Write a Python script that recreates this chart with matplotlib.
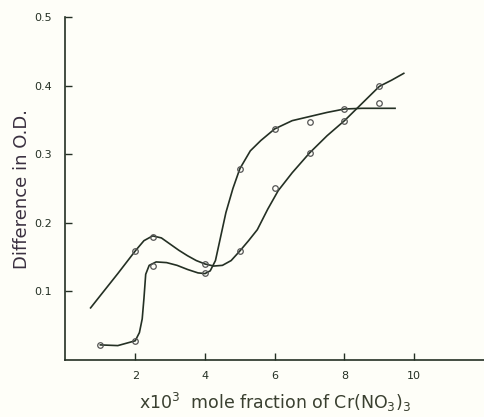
import matplotlib
matplotlib.use("Agg")
import matplotlib.pyplot as plt

# measured points (open circles)
px1 = [1, 2, 2.5, 4, 5, 6, 7, 8]
py1 = [0.022, 0.028, 0.137, 0.127, 0.279, 0.337, 0.347, 0.366]
px2 = [2, 2.5, 4, 5, 6, 7, 8, 9]
py2 = [0.159, 0.180, 0.140, 0.159, 0.251, 0.302, 0.349, 0.399]
px3 = [9]
py3 = [0.375]

# hand drawn curves
cx1 = [1.0, 1.5, 2.0, 2.12, 2.2, 2.25, 2.3, 2.4, 2.6, 2.9, 3.2, 3.5, 3.8, 4.0,
       4.15, 4.3, 4.45, 4.6, 4.8, 5.0, 5.3, 5.6, 6.0, 6.5, 7.0, 7.5, 8.0, 8.5, 9.0, 9.45]
cy1 = [0.022, 0.021, 0.028, 0.04, 0.06, 0.09, 0.125, 0.138, 0.143, 0.142, 0.138, 0.132,
       0.127, 0.126, 0.13, 0.145, 0.18, 0.215, 0.25, 0.279, 0.305, 0.32, 0.337, 0.349,
       0.355, 0.361, 0.366, 0.367, 0.367, 0.367]
cx2 = [0.72, 1.0, 1.5, 2.0, 2.25, 2.5, 2.75, 3.0, 3.25, 3.5, 3.75, 4.0, 4.25, 4.5,
       4.75, 5.0, 5.25, 5.5, 5.8, 6.1, 6.5, 7.0, 7.5, 8.0, 8.5, 9.0, 9.35, 9.7]
cy2 = [0.076, 0.094, 0.126, 0.159, 0.174, 0.181, 0.178, 0.169, 0.16, 0.152, 0.145,
       0.14, 0.137, 0.138, 0.145, 0.159, 0.174, 0.19, 0.22, 0.247, 0.273, 0.302,
       0.327, 0.349, 0.374, 0.399, 0.408, 0.418]

xticks = [2, 4, 6, 8, 10]
yticks = [0.1, 0.2, 0.3, 0.4, 0.5]

plt.rcParams['font.family'] = ['DejaVu Sans']
plt.rcParams['mathtext.default'] = 'regular'
ink = '#243024'
bg = '#fefef8'

fig = plt.figure(figsize=(4.84, 4.17), dpi=100, facecolor=bg)
ax = fig.add_axes([0.1353, 0.1367, 0.8647, 0.8223], facecolor=bg)

ax.plot(cx1, cy1, color=ink, lw=1.2)
ax.plot(cx2, cy2, color=ink, lw=1.2)
for x, y in [(px1, py1), (px2, py2), (px3, py3)]:
    ax.plot(x, y, 'o', ms=4, mfc='none', mec='#555555', mew=0.9)

ax.set_xlim(0, 12)
ax.set_ylim(0, 0.5)
ax.set_xticks(xticks)
ax.set_xticklabels([str(t) for t in xticks])
ax.set_yticks(yticks)
ax.set_yticklabels([str(t) for t in yticks])
ax.tick_params(direction='in', length=5, width=1, colors=ink, labelsize=8, pad=8)
ax.tick_params(axis='y', pad=10)
for s in ['top', 'right']:
    ax.spines[s].set_visible(False)
for s in ['left', 'bottom']:
    ax.spines[s].set_color(ink)
    ax.spines[s].set_linewidth(1.2)

ax.set_ylabel('Difference in O.D.', fontsize=13, color='#3a3040', labelpad=2)
ax.set_xlabel('x10$^3$  mole fraction of Cr(NO$_3$)$_3$', fontsize=12.5,
              color='#3a4030', labelpad=7)

fig.savefig('out.png', dpi=100, facecolor=bg)
